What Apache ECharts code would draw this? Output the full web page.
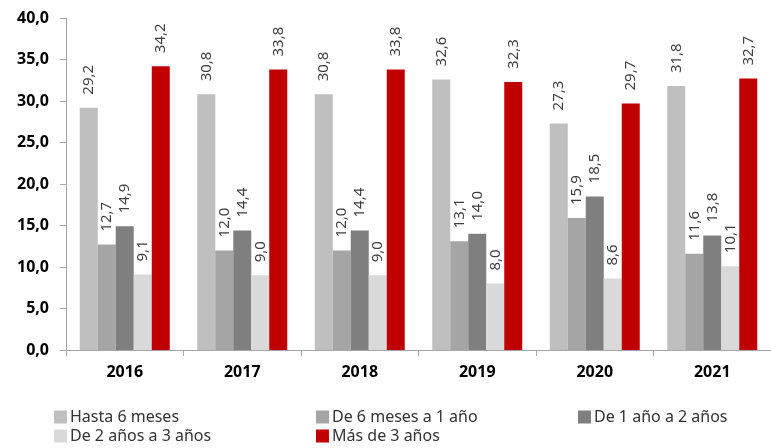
<!DOCTYPE html>
<html>
<head>
<meta charset="utf-8">
<script src="https://cdn.jsdelivr.net/npm/echarts@6/dist/echarts.min.js"></script>
<style>
  html, body { margin: 0; padding: 0; background: #fff; }
  #chart { width: 771px; height: 448px; }
</style>
</head>
<body>
<div id="chart"></div>
<script>
// datos
const years = ['2016', '2017', '2018', '2019', '2020', '2021'];
const hasta6m = [29.2, 30.8, 30.8, 32.6, 27.3, 31.8];
const de6ma1 = [12.7, 12.0, 12.0, 13.1, 15.9, 11.6];
const de1a2 = [14.9, 14.4, 14.4, 14.0, 18.5, 13.8];
const de2a3 = [9.1, 9.0, 9.0, 8.0, 8.6, 10.1];
const mas3 = [34.2, 33.8, 33.8, 32.3, 29.7, 32.7];

const seriesNames = ['Hasta 6 meses', 'De 6 meses a 1 año', 'De 1 año a 2 años', 'De 2 años a 3 años', 'Más de 3 años'];
const seriesData = [hasta6m, de6ma1, de1a2, de2a3, mas3];
const colors = ['#bfbfbf', '#a5a5a5', '#7f7f7f', '#d9d9d9', '#c00000'];

const fontFamily = 'Noto Sans';
const fmt = v => v.toFixed(1).replace('.', ',');

const chart = echarts.init(document.getElementById('chart'));

// leyenda en columnas, como en el original
const legendBase = {
    orient: 'vertical',
    top: 404,
    height: 60,
    itemWidth: 13,
    itemHeight: 13,
    itemGap: 3,
    icon: 'rect',
    textStyle: { fontFamily: fontFamily, fontSize: 16, color: '#333', padding: [0, 0, 0, -2] }
};

const option = {
    color: colors,
    animation: false,
    grid: {
        top: 18,
        bottom: 98,
        left: 66,
        right: -9
    },
    legend: [
        Object.assign({}, legendBase, { left: 49, data: [seriesNames[0], seriesNames[3]] }),
        Object.assign({}, legendBase, { left: 311, data: [seriesNames[1], seriesNames[4]] }),
        Object.assign({}, legendBase, { left: 573, data: [seriesNames[2]] })
    ],
    xAxis: {
        type: 'category',
        data: years,
        axisLine: { lineStyle: { color: '#a6a6a6' } },
        axisTick: { show: true, length: 6, lineStyle: { color: '#a6a6a6' } },
        axisLabel: {
            fontFamily: fontFamily,
            fontSize: 16,
            fontWeight: 'bold',
            color: '#000',
            margin: 14
        }
    },
    yAxis: {
        type: 'value',
        min: 0,
        max: 40,
        interval: 5,
        splitLine: { show: false },
        axisLine: { show: true, lineStyle: { color: '#a6a6a6' } },
        axisTick: { show: true, length: 6, lineStyle: { color: '#a6a6a6' } },
        axisLabel: {
            fontFamily: fontFamily,
            fontSize: 16,
            fontWeight: 'bold',
            color: '#000',
            margin: 17,
            formatter: v => fmt(v)
        }
    },
    series: seriesNames.map((name, i) => ({
        name: name,
        type: 'bar',
        data: seriesData[i],
        barWidth: 18,
        barGap: '0%',
        label: {
            show: true,
            position: 'top',
            rotate: 90,
            align: 'left',
            verticalAlign: 'middle',
            distance: 13,
            fontFamily: fontFamily,
            fontSize: 15,
            color: '#404040',
            formatter: p => fmt(p.value)
        }
    }))
};

chart.setOption(option);
</script>
</body>
</html>
